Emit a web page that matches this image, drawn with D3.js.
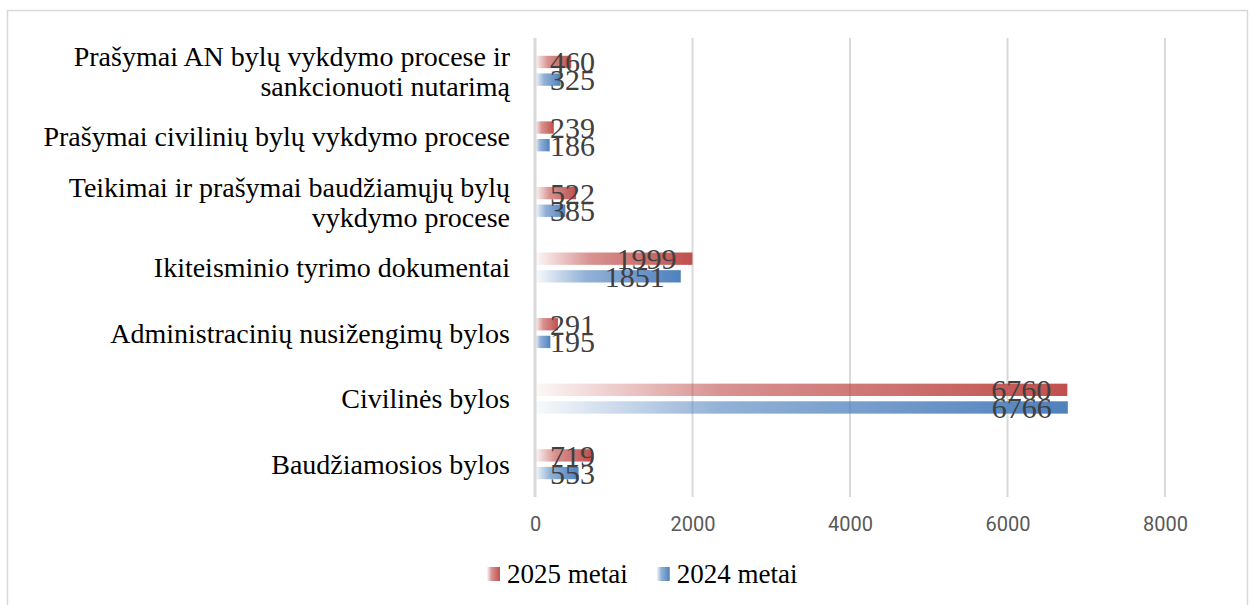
<!DOCTYPE html>
<html>
<head>
<meta charset="utf-8">
<script src="https://cdn.jsdelivr.net/npm/d3@7"></script>
<style>
  body { margin: 0; background: #fff; }
  svg { display: block; }
</style>
</head>
<body>
<div id="chart"></div>
<script>
// categories top to bottom, as in the picture
var categories = [
  'Prašymai AN bylų vykdymo procese ir sankcionuoti nutarimą',
  'Prašymai civilinių bylų vykdymo procese',
  'Teikimai ir prašymai baudžiamųjų bylų vykdymo procese',
  'Ikiteisminio tyrimo dokumentai',
  'Administracinių nusižengimų bylos',
  'Civilinės bylos',
  'Baudžiamosios bylos'
];
var values2025 = [460, 239, 522, 1999, 291, 6760, 719];
var values2024 = [325, 186, 385, 1851, 195, 6766, 553];
var seriesNames = ['2025 metai', '2024 metai'];
var xTicks = [0, 2000, 4000, 6000, 8000];

var width = 1250,
    height = 605;

var serif = '"Liberation Serif", "Times New Roman", serif';
var colors = {'2025 metai': '#c0504d', '2024 metai': '#4f81bd'};

var svg = d3.select('#chart').append('svg')
  .attr('width', width)
  .attr('height', height);

// gradients for bars (pale on the left, full colour at the bar end)
var defs = svg.append('defs');
seriesNames.forEach(function(s, i) {
  var g = defs.append('linearGradient')
    .attr('id', 'grad' + i)
    .attr('x1', 0).attr('x2', 1).attr('y1', 0).attr('y2', 0);
  g.append('stop').attr('offset', 0).attr('stop-color', colors[s]).attr('stop-opacity', 0.04);
  g.append('stop').attr('offset', 0.35).attr('stop-color', colors[s]).attr('stop-opacity', 0.62);
  g.append('stop').attr('offset', 0.7).attr('stop-color', colors[s]).attr('stop-opacity', 0.82);
  g.append('stop').attr('offset', 1).attr('stop-color', colors[s]).attr('stop-opacity', 1);
});

// outer frame
svg.append('rect')
  .attr('x', 7.5).attr('y', 10.5)
  .attr('width', 1240).attr('height', 620)
  .attr('fill', 'none')
  .attr('stroke', '#d9d9d9')
  .attr('stroke-width', 1.5);

var xScale = d3.scaleLinear()
  .domain([0, 8000])
  .range([535, 1165]);

var yScale = d3.scaleBand()
  .domain(categories)
  .range([38, 497]);

// gridlines
svg.append('g').selectAll('line')
  .data(xTicks.slice(1))
  .enter().append('line')
  .attr('x1', function(d) { return xScale(d); })
  .attr('x2', function(d) { return xScale(d); })
  .attr('y1', 38).attr('y2', 497)
  .attr('stroke', '#d9d9d9')
  .attr('stroke-width', 2);

// x axis labels
var xAxis = d3.axisBottom(xScale)
  .tickValues(xTicks)
  .tickFormat(d3.format('d'))
  .tickSize(0).tickPadding(0);
var xAxisGroup = svg.append('g')
  .attr('transform', 'translate(0, 517)')
  .call(xAxis);
xAxisGroup.select('.domain').remove();
xAxisGroup.selectAll('text')
  .attr('dy', '0.71em')
  .style('font-family', 'Roboto, "Open Sans", sans-serif')
  .style('font-size', '20px')
  .attr('fill', '#595959');

// bars
var rows = categories.map(function(c, i) {
  return {cat: c, vals: [values2025[i], values2024[i]]};
});

var ySub = d3.scaleBand()
  .domain(seriesNames)
  .range([-15, 15])
  .paddingInner(0.3);

var groups = svg.append('g').selectAll('g')
  .data(rows)
  .enter().append('g')
  .attr('transform', function(d) { return 'translate(0,' + (yScale(d.cat) + yScale.bandwidth() / 2) + ')'; });

groups.selectAll('rect')
  .data(function(d) { return seriesNames.map(function(s, i) { return {s: s, i: i, v: d.vals[i]}; }); })
  .enter().append('rect')
  .attr('x', xScale(0))
  .attr('y', function(d) { return ySub(d.s); })
  .attr('width', function(d) { return xScale(d.v) - xScale(0); })
  .attr('height', ySub.bandwidth())
  .attr('fill', function(d) { return 'url(#grad' + d.i + ')'; });

// axis line at 0
svg.append('line')
  .attr('x1', xScale(0)).attr('x2', xScale(0))
  .attr('y1', 38).attr('y2', 497)
  .attr('stroke', '#d9d9d9')
  .attr('stroke-width', 3);

// data labels, inside the bar end; pushed right when the bar is short
groups.selectAll('text.val')
  .data(function(d) { return seriesNames.map(function(s, i) { return {s: s, i: i, v: d.vals[i]}; }); })
  .enter().append('text')
  .attr('class', 'val')
  .text(function(d) { return d.v; })
  .style('font-family', serif)
  .style('font-size', '30px')
  .attr('fill', '#404040')
  .attr('dy', '0.35em')
  .attr('y', function(d) { return ySub(d.s) + ySub.bandwidth() / 2; })
  .attr('x', function(d) {
    var w = this.getComputedTextLength();
    return Math.max(xScale(d.v) - 16 - w, xScale(0) + 15);
  });

// category labels (wrapped)
var catLabels = svg.append('g').selectAll('text')
  .data(categories)
  .enter().append('text')
  .attr('text-anchor', 'end')
  .style('font-family', serif)
  .style('font-size', '28px')
  .attr('fill', '#000');

catLabels.each(function(d) {
  var t = d3.select(this);
  var words = d.split(' ');
  var lines = [], line = [];
  var probe = t.append('tspan');
  words.forEach(function(w) {
    line.push(w);
    probe.text(line.join(' '));
    if (probe.node().getComputedTextLength() > 475 && line.length > 1) {
      line.pop();
      lines.push(line.join(' '));
      line = [w];
    }
  });
  lines.push(line.join(' '));
  probe.remove();
  var cy = yScale(d) + yScale.bandwidth() / 2;
  var lh = 30;
  lines.forEach(function(l, k) {
    t.append('tspan')
      .attr('x', 510)
      .attr('y', cy + (k - (lines.length - 1) / 2) * lh)
      .attr('dy', '0.35em')
      .text(l);
  });
});

// legend
var legend = svg.append('g').attr('transform', 'translate(0, 574)');
var lx = 487;
seriesNames.forEach(function(s, i) {
  var item = legend.append('g').attr('transform', 'translate(' + lx + ',0)');
  item.append('rect')
    .attr('x', 0).attr('y', -7)
    .attr('width', 13).attr('height', 14)
    .attr('fill', 'url(#grad' + i + ')');
  var txt = item.append('text')
    .attr('x', 20)
    .attr('dy', '0.35em')
    .style('font-family', serif)
    .style('font-size', '27px')
    .attr('fill', '#000')
    .text(s);
  lx += 20 + txt.node().getComputedTextLength() + 29;
});
</script>
</body>
</html>
